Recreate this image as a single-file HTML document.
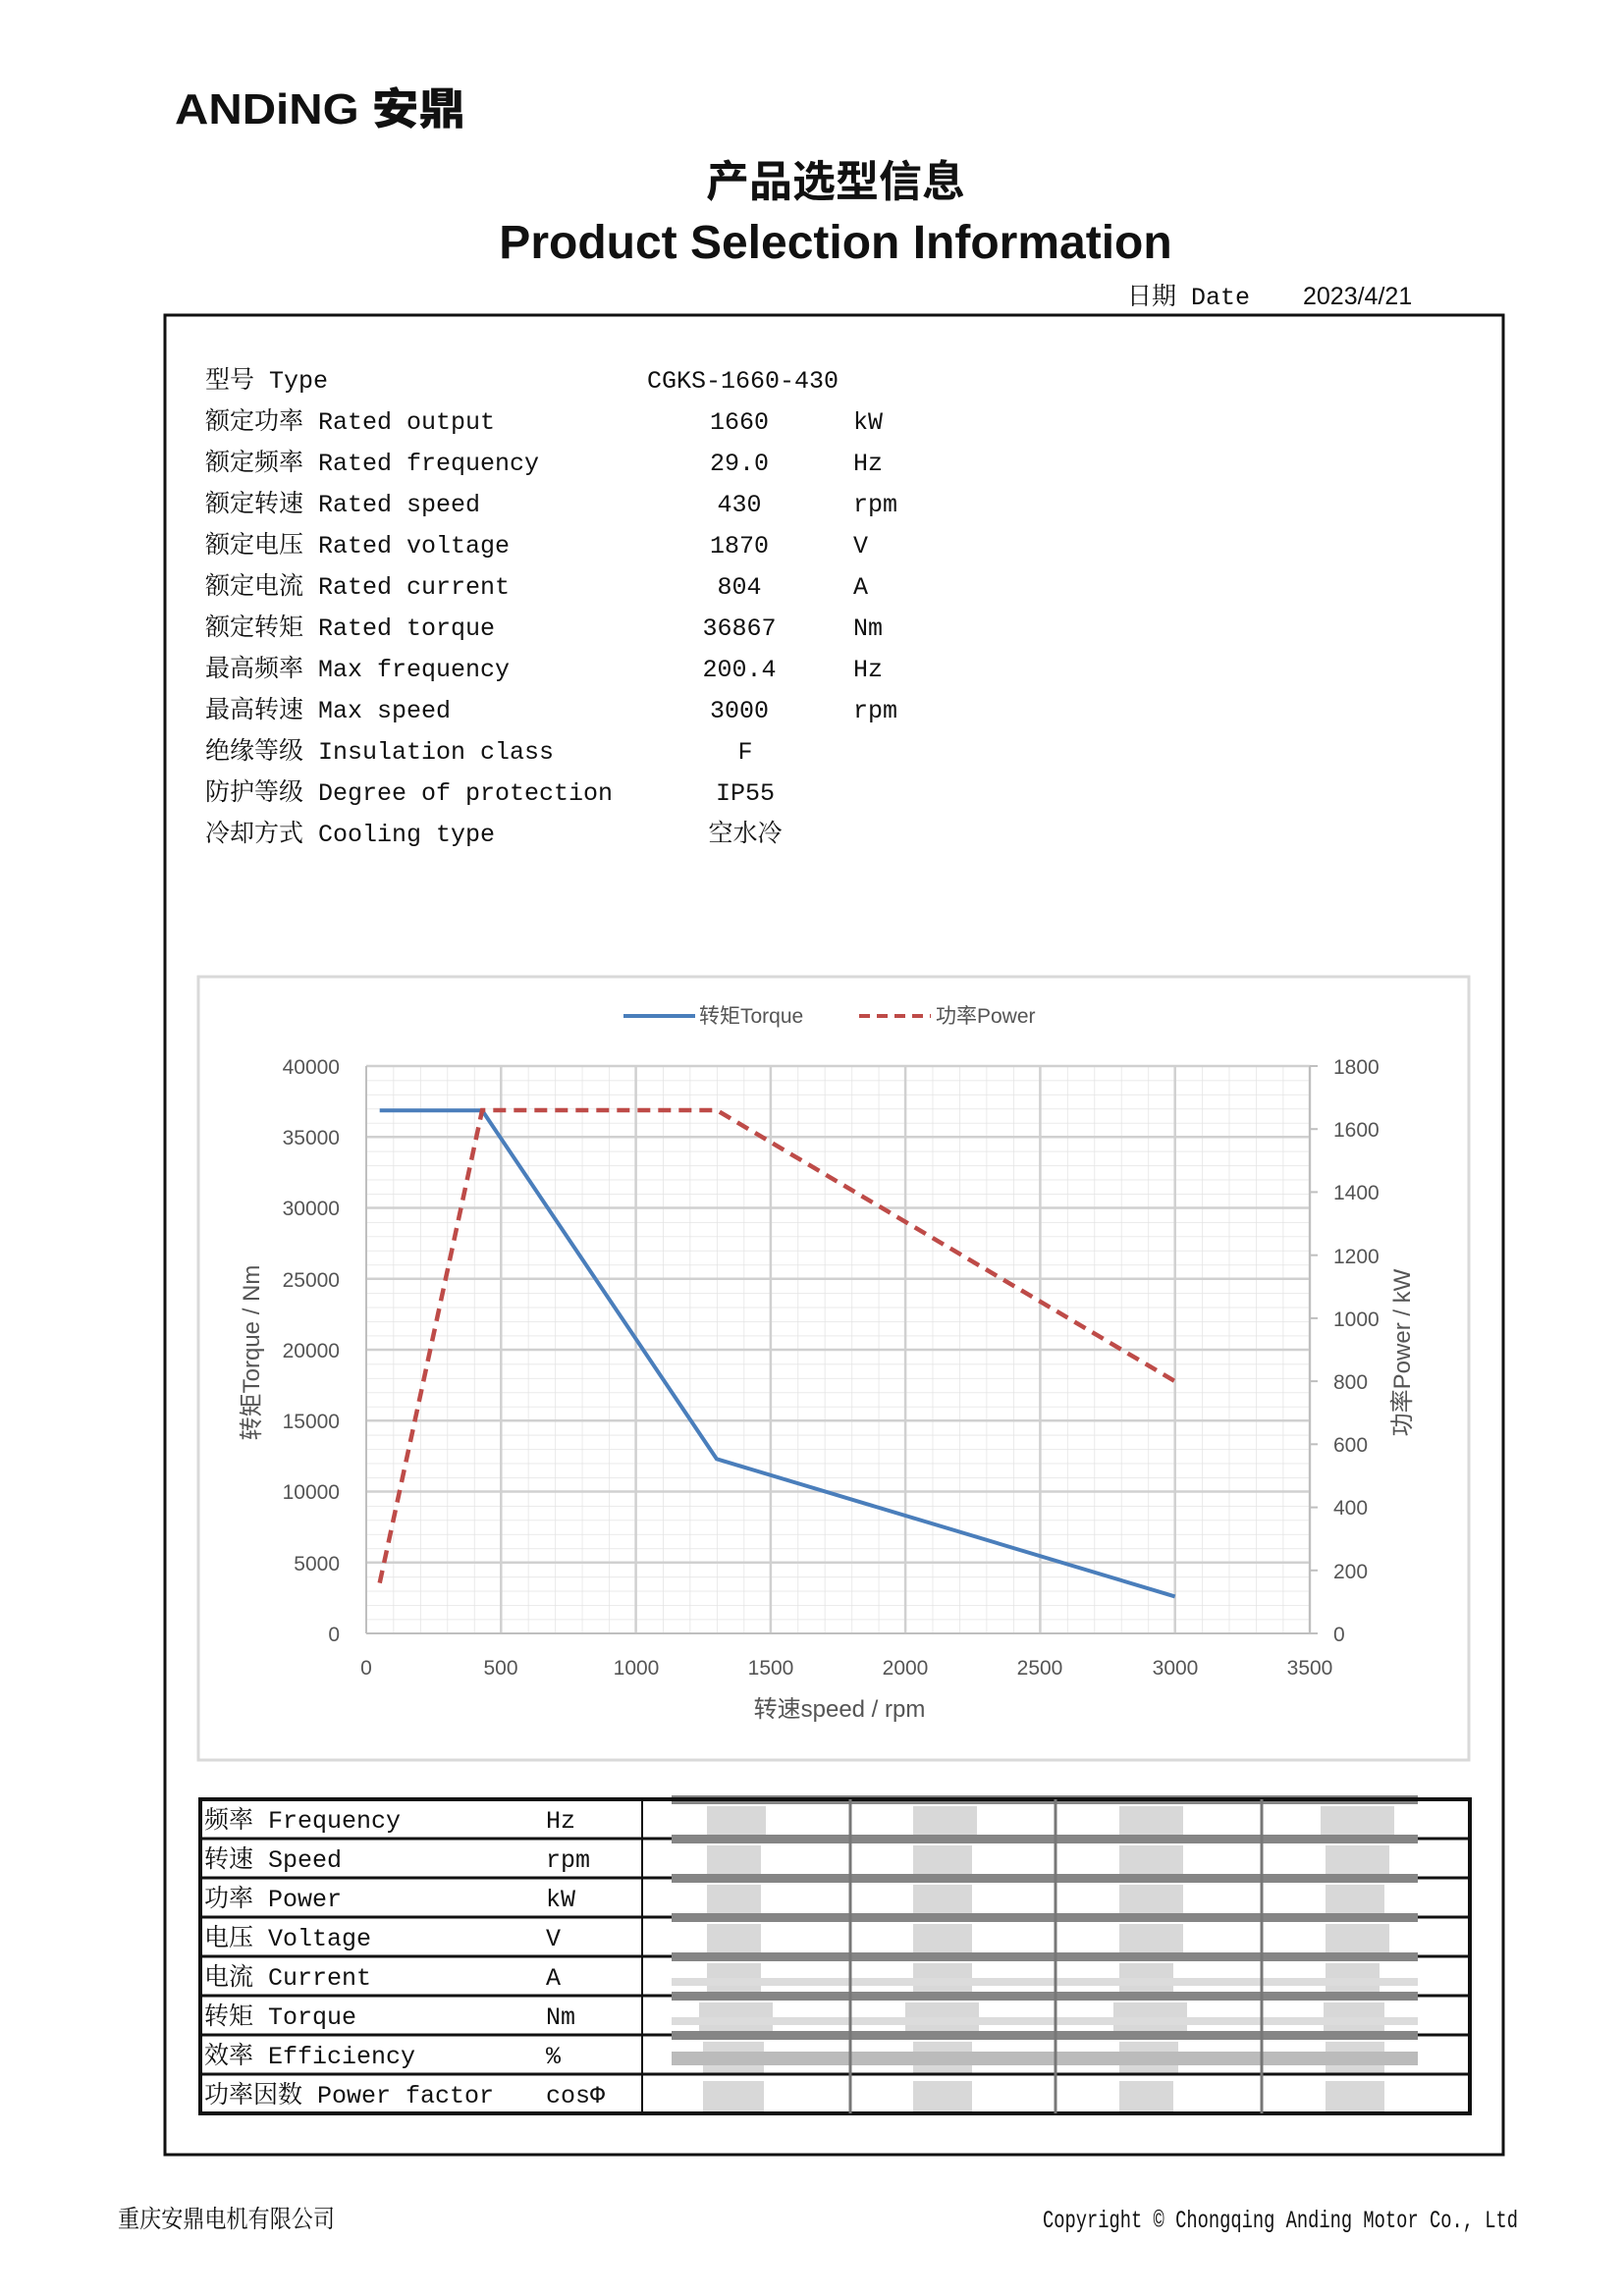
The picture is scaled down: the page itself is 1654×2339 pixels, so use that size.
<!DOCTYPE html>
<html><head><meta charset="utf-8"><style>
html,body{margin:0;padding:0;background:#fff}
svg{display:block}
.m{font-family:"Liberation Mono","Noto Serif CJK SC",monospace;font-size:25px;fill:#111}
.s{font-family:"Liberation Sans","Noto Sans CJK SC",sans-serif}
.t{font-family:"Liberation Sans","Noto Sans CJK SC",sans-serif;font-size:21px;fill:#555}
</style></head><body>
<svg width="1654" height="2339" viewBox="0 0 1654 2339" xmlns="http://www.w3.org/2000/svg">
<defs>
<pattern id="g" x="373" y="1086" width="27.457" height="14.45" patternUnits="userSpaceOnUse">
<path d="M0 0V14.45M0 0H27.457" stroke="#e3e3e3" stroke-width="1.5" fill="none"/>
</pattern>
</defs>
<!-- header -->
<text x="178" y="126" class="s" font-size="44" font-weight="900" fill="#111" textLength="296" lengthAdjust="spacingAndGlyphs">ANDiNG 安鼎</text>
<text x="851" y="200" text-anchor="middle" class="s" font-size="44" font-weight="bold" fill="#111">产品选型信息</text>
<text x="851" y="263" text-anchor="middle" class="s" font-size="48" font-weight="bold" fill="#111">Product Selection Information</text>
<text x="1148" y="310" class="m">日期 Date</text>
<text x="1327" y="310" class="s" font-size="25" fill="#111">2023/4/21</text>
<rect x="168" y="321" width="1363" height="1874" fill="none" stroke="#111" stroke-width="3"/>
<!-- specs -->
<g class="m">
<text x="209" y="395">型号 Type</text><text x="659" y="395">CGKS-1660-430</text>
<text x="209" y="437">额定功率 Rated output</text><text x="753" y="437" text-anchor="middle">1660</text><text x="869" y="437">kW</text>
<text x="209" y="479">额定频率 Rated frequency</text><text x="753" y="479" text-anchor="middle">29.0</text><text x="869" y="479">Hz</text>
<text x="209" y="521">额定转速 Rated speed</text><text x="753" y="521" text-anchor="middle">430</text><text x="869" y="521">rpm</text>
<text x="209" y="563">额定电压 Rated voltage</text><text x="753" y="563" text-anchor="middle">1870</text><text x="869" y="563">V</text>
<text x="209" y="605">额定电流 Rated current</text><text x="753" y="605" text-anchor="middle">804</text><text x="869" y="605">A</text>
<text x="209" y="647">额定转矩 Rated torque</text><text x="753" y="647" text-anchor="middle">36867</text><text x="869" y="647">Nm</text>
<text x="209" y="689">最高频率 Max frequency</text><text x="753" y="689" text-anchor="middle">200.4</text><text x="869" y="689">Hz</text>
<text x="209" y="731">最高转速 Max speed</text><text x="753" y="731" text-anchor="middle">3000</text><text x="869" y="731">rpm</text>
<text x="209" y="773">绝缘等级 Insulation class</text><text x="759" y="773" text-anchor="middle">F</text>
<text x="209" y="815">防护等级 Degree of protection</text><text x="759" y="815" text-anchor="middle">IP55</text>
<text x="209" y="857">冷却方式 Cooling type</text><text x="759" y="857" text-anchor="middle">空水冷</text>
</g>
<!-- chart -->
<rect x="202" y="995" width="1294" height="798" fill="#fff" stroke="#d9d9d9" stroke-width="3"/>
<line x1="635" y1="1035" x2="708" y2="1035" stroke="#4a7ebb" stroke-width="4"/>
<text x="712" y="1042" class="t">转矩Torque</text>
<line x1="875" y1="1035" x2="948" y2="1035" stroke="#be4b48" stroke-width="4" stroke-dasharray="11,7"/>
<text x="953" y="1042" class="t">功率Power</text>
<rect x="373" y="1086" width="961" height="578" fill="url(#g)"/>
<g stroke="#d0d0d0" stroke-width="2.5">
<line x1="510.3" y1="1086" x2="510.3" y2="1664"/><line x1="647.6" y1="1086" x2="647.6" y2="1664"/><line x1="784.9" y1="1086" x2="784.9" y2="1664"/><line x1="922.1" y1="1086" x2="922.1" y2="1664"/><line x1="1059.4" y1="1086" x2="1059.4" y2="1664"/><line x1="1196.7" y1="1086" x2="1196.7" y2="1664"/><line x1="1334" y1="1086" x2="1334" y2="1664"/>
<line x1="373" y1="1086" x2="1334" y2="1086"/><line x1="373" y1="1158.3" x2="1334" y2="1158.3"/><line x1="373" y1="1230.5" x2="1334" y2="1230.5"/><line x1="373" y1="1302.8" x2="1334" y2="1302.8"/><line x1="373" y1="1375" x2="1334" y2="1375"/><line x1="373" y1="1447.3" x2="1334" y2="1447.3"/><line x1="373" y1="1519.5" x2="1334" y2="1519.5"/><line x1="373" y1="1591.8" x2="1334" y2="1591.8"/>
</g>
<line x1="373" y1="1086" x2="373" y2="1664" stroke="#bfbfbf" stroke-width="2"/>
<line x1="373" y1="1664" x2="1334" y2="1664" stroke="#bfbfbf" stroke-width="2"/>
<line x1="1334" y1="1086" x2="1334" y2="1664" stroke="#bfbfbf" stroke-width="2"/>
<g stroke="#bfbfbf" stroke-width="2">
<line x1="1334" y1="1086" x2="1342" y2="1086"/><line x1="1334" y1="1150.2" x2="1342" y2="1150.2"/><line x1="1334" y1="1214.4" x2="1342" y2="1214.4"/><line x1="1334" y1="1278.7" x2="1342" y2="1278.7"/><line x1="1334" y1="1342.9" x2="1342" y2="1342.9"/><line x1="1334" y1="1407.1" x2="1342" y2="1407.1"/><line x1="1334" y1="1471.3" x2="1342" y2="1471.3"/><line x1="1334" y1="1535.6" x2="1342" y2="1535.6"/><line x1="1334" y1="1599.8" x2="1342" y2="1599.8"/><line x1="1334" y1="1664" x2="1342" y2="1664"/>
</g>
<polyline points="386.7,1131.3 491.1,1131.3 729.9,1486.3 1196.7,1626.4" fill="none" stroke="#4a7ebb" stroke-width="4"/>
<polyline points="386.7,1612.6 491.1,1131 729.9,1131 1196.7,1407.1" fill="none" stroke="#be4b48" stroke-width="4.5" stroke-dasharray="13,8"/>
<g class="t" text-anchor="end">
<text x="346" y="1094">40000</text><text x="346" y="1166">35000</text><text x="346" y="1238">30000</text><text x="346" y="1311">25000</text><text x="346" y="1383">20000</text><text x="346" y="1455">15000</text><text x="346" y="1527">10000</text><text x="346" y="1600">5000</text><text x="346" y="1672">0</text>
</g>
<g class="t">
<text x="1358" y="1094">1800</text><text x="1358" y="1158">1600</text><text x="1358" y="1222">1400</text><text x="1358" y="1287">1200</text><text x="1358" y="1351">1000</text><text x="1358" y="1415">800</text><text x="1358" y="1479">600</text><text x="1358" y="1543">400</text><text x="1358" y="1608">200</text><text x="1358" y="1672">0</text>
</g>
<g class="t" text-anchor="middle">
<text x="373" y="1706">0</text><text x="510" y="1706">500</text><text x="648" y="1706">1000</text><text x="785" y="1706">1500</text><text x="922" y="1706">2000</text><text x="1059" y="1706">2500</text><text x="1197" y="1706">3000</text><text x="1334" y="1706">3500</text>
<text x="855" y="1749" font-size="24">转速speed / rpm</text>
<text transform="translate(264,1378) rotate(-90)" font-size="24">转矩Torque / Nm</text>
<text transform="translate(1436,1378) rotate(-90)" font-size="24">功率Power / kW</text>
</g>
<!-- table -->
<g fill="#d8d8d8">
<rect x="720" y="1840" width="60" height="32"/><rect x="930" y="1840" width="65" height="32"/><rect x="1140" y="1840" width="65" height="32"/><rect x="1345" y="1840" width="75" height="32"/>
<rect x="720" y="1880" width="55" height="32"/><rect x="930" y="1880" width="60" height="32"/><rect x="1140" y="1880" width="65" height="32"/><rect x="1350" y="1880" width="65" height="32"/>
<rect x="720" y="1920" width="55" height="32"/><rect x="930" y="1920" width="60" height="32"/><rect x="1140" y="1920" width="65" height="32"/><rect x="1350" y="1920" width="60" height="32"/>
<rect x="720" y="1960" width="55" height="32"/><rect x="930" y="1960" width="60" height="32"/><rect x="1140" y="1960" width="65" height="32"/><rect x="1350" y="1960" width="65" height="32"/>
<rect x="720" y="2000" width="55" height="32"/><rect x="930" y="2000" width="60" height="32"/><rect x="1140" y="2000" width="55" height="32"/><rect x="1350" y="2000" width="55" height="32"/>
<rect x="712" y="2040" width="75" height="32"/><rect x="922" y="2040" width="75" height="32"/><rect x="1134" y="2040" width="75" height="32"/><rect x="1348" y="2040" width="62" height="32"/>
<rect x="716" y="2080" width="62" height="32"/><rect x="930" y="2080" width="60" height="32"/><rect x="1140" y="2080" width="60" height="32"/><rect x="1350" y="2080" width="60" height="32"/>
<rect x="716" y="2120" width="62" height="32"/><rect x="930" y="2120" width="60" height="32"/><rect x="1140" y="2120" width="55" height="32"/><rect x="1350" y="2120" width="60" height="32"/>
</g>
<g stroke="#111" stroke-width="3">
<line x1="203" y1="1833" x2="1497" y2="1833"/><line x1="203" y1="1873" x2="1497" y2="1873"/><line x1="203" y1="1913" x2="1497" y2="1913"/><line x1="203" y1="1953" x2="1497" y2="1953"/><line x1="203" y1="1993" x2="1497" y2="1993"/><line x1="203" y1="2033" x2="1497" y2="2033"/><line x1="203" y1="2073" x2="1497" y2="2073"/><line x1="203" y1="2113" x2="1497" y2="2113"/>
</g>
<g fill="#858585">
<rect x="684" y="1829" width="760" height="9"/><rect x="684" y="1869" width="760" height="9"/><rect x="684" y="1909" width="760" height="9"/><rect x="684" y="1949" width="760" height="9"/><rect x="684" y="1989" width="760" height="9"/><rect x="684" y="2029" width="760" height="9"/><rect x="684" y="2069" width="760" height="9"/>
</g>
<g fill="#dcdcdc"><rect x="684" y="2015" width="760" height="8"/><rect x="684" y="2055" width="760" height="8"/></g>
<rect x="684" y="2090" width="760" height="14" fill="#bbb"/>
<rect x="204" y="1833" width="1293" height="320" fill="none" stroke="#111" stroke-width="4"/>
<line x1="654" y1="1833" x2="654" y2="2153" stroke="#111" stroke-width="2"/>
<g stroke="#777" stroke-width="3"><line x1="866" y1="1833" x2="866" y2="2153"/><line x1="1075" y1="1833" x2="1075" y2="2153"/><line x1="1285" y1="1833" x2="1285" y2="2153"/></g>
<g class="m">
<text x="208" y="1862">频率 Frequency</text><text x="556" y="1862">Hz</text>
<text x="208" y="1902">转速 Speed</text><text x="556" y="1902">rpm</text>
<text x="208" y="1942">功率 Power</text><text x="556" y="1942">kW</text>
<text x="208" y="1982">电压 Voltage</text><text x="556" y="1982">V</text>
<text x="208" y="2022">电流 Current</text><text x="556" y="2022">A</text>
<text x="208" y="2062">转矩 Torque</text><text x="556" y="2062">Nm</text>
<text x="208" y="2102">效率 Efficiency</text><text x="556" y="2102">%</text>
<text x="208" y="2142">功率因数 Power factor</text><text x="556" y="2142">cosΦ</text>
</g>
<text x="120" y="2269" class="m" font-size="19" textLength="221" lengthAdjust="spacingAndGlyphs">重庆安鼎电机有限公司</text>
<text x="1062" y="2269" class="m" font-size="20" textLength="484" lengthAdjust="spacingAndGlyphs">Copyright © Chongqing Anding Motor Co., Ltd</text>
</svg>
</body></html>
